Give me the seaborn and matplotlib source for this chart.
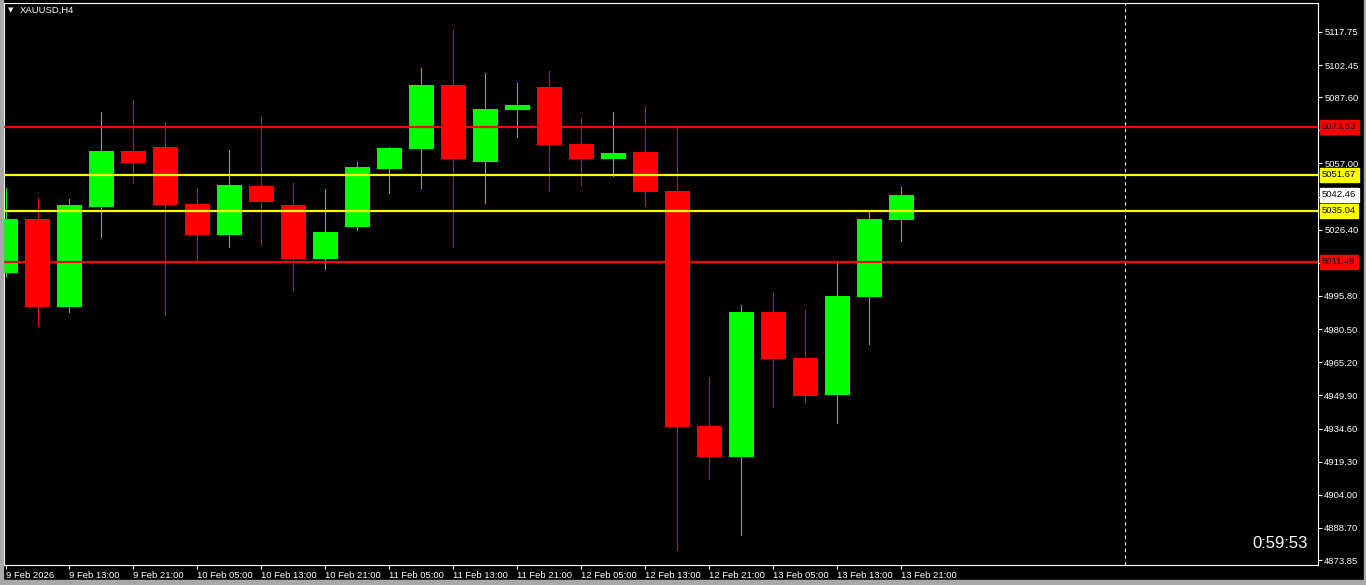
import matplotlib
matplotlib.use("Agg")
import matplotlib.pyplot as plt
import matplotlib.transforms as mtransforms
from matplotlib.patches import Rectangle
import seaborn as sns

sns.set_theme(style="dark", rc={"axes.facecolor": "black", "figure.facecolor": "black"})
plt.rcParams['font.family'] = ['Liberation Sans', 'DejaVu Sans']

# XAUUSD H4 candles
opens  = [5006.4, 5031.4, 4990.7, 5036.9, 5062.8, 5064.6, 5038.3, 5023.8, 5046.6, 5037.8,
          5012.9, 5027.7, 5054.4, 5063.7, 5093.2, 5057.7, 5081.7, 5092.3, 5066.0, 5059.1,
          5062.3, 5044.3, 4935.8, 4921.4, 4988.4, 4967.2, 4950.1, 4995.3, 5030.7]
highs  = [5045.7, 5041.0, 5040.6, 5080.8, 5086.3, 5075.7, 5045.7, 5063.2, 5078.4, 5048.0,
          5045.2, 5057.7, 5064.6, 5101.1, 5118.6, 5098.8, 5094.2, 5099.7, 5078.0, 5080.8,
          5083.5, 5074.8, 4958.4, 4991.6, 4997.3, 4989.3, 5011.0, 5035.5, 5046.1]
lows   = [5005.0, 4981.9, 4988.5, 5023.2, 5048.1, 4987.2, 5011.6, 5018.5, 5019.3, 4998.6,
          5008.3, 5026.3, 5043.3, 5045.7, 5018.4, 5038.7, 5069.2, 5044.3, 5047.1, 5051.2,
          5037.3, 4878.5, 4911.3, 4885.4, 4944.7, 4946.8, 4937.3, 4973.6, 5021.2]
closes = [5031.4, 4990.7, 5037.8, 5062.8, 5057.3, 5037.8, 5023.8, 5047.1, 5039.2, 5012.9,
          5025.3, 5055.4, 5064.1, 5093.2, 5059.1, 5082.1, 5084.0, 5065.5, 5059.1, 5061.8,
          5043.8, 4935.3, 4921.4, 4988.4, 4966.7, 4949.6, 4995.8, 5031.3, 5042.46]

time_labels = ["9 Feb 2026", "9 Feb 13:00", "9 Feb 21:00", "10 Feb 05:00", "10 Feb 13:00",
               "10 Feb 21:00", "11 Feb 05:00", "11 Feb 13:00", "11 Feb 21:00", "12 Feb 05:00",
               "12 Feb 13:00", "12 Feb 21:00", "13 Feb 05:00", "13 Feb 13:00", "13 Feb 21:00"]
time_pos = list(range(0, 29, 2))

price_ticks = [5117.75, 5102.45, 5087.60, 5072.30, 5057.00, 5041.70, 5026.40, 5011.10, 4995.80,
               4980.50, 4965.20, 4949.90, 4934.60, 4919.30, 4904.00, 4888.70, 4873.85]
hidden_ticks = [5041.70, 5011.10]

# horizontal levels: (price, colour)
levels = [(5073.83, "#ff0000"), (5051.67, "#ffff00"), (5035.04, "#ffff00"), (5011.49, "#ff0000")]
bid = 5042.46
timer = "0:59:53"

W, H = 1366, 585
fig = plt.figure(figsize=(W / 100, H / 100), dpi=100, facecolor="black")
ax = fig.add_axes([4 / W, 1 - 565 / H, 1314 / W, 562 / H])
ax.set_facecolor("black")

green, red = "#00ff00", "#ff0000"
idx = list(range(len(opens)))
cols = [green if c >= o else red for o, c in zip(opens, closes)]
bottoms = [min(o, c) for o, c in zip(opens, closes)]
heights = [max(abs(c - o), 0.6) for o, c in zip(opens, closes)]

ax.vlines(idx, lows, highs, colors=cols, linewidth=0.7, antialiased=False, zorder=3)
ax.bar(idx, heights, bottom=bottoms, width=0.78, color=cols, linewidth=0,
       antialiased=False, zorder=4)

for p, c in levels:
    ax.axhline(p, color=c, linewidth=1.6, zorder=5)

ax.axvline(35, color="white", linewidth=0.8, linestyle=(0, (3, 3)), zorder=2)

ax.set_xlim(-0.047, 41.02)
ax.set_ylim(4871.57, 5131.09)

for s in ax.spines.values():
    s.set_color("white")
    s.set_linewidth(0.8)

ax.yaxis.tick_right()
ax.set_yticks(price_ticks)
ax.set_yticklabels(["" if p in hidden_ticks else f"{p:.2f}" for p in price_ticks])
ax.tick_params(axis="y", colors="white", labelcolor="white", labelsize=6.8,
               length=3, width=0.8, pad=1.5, right=True, left=False)
ax.set_xticks(time_pos)
ax.set_xticklabels(time_labels, ha="left")
ax.tick_params(axis="x", colors="white", labelcolor="white", labelsize=6.8,
               length=3, width=0.8, pad=1.5, bottom=True)
ax.grid(False)
ax.set_xlabel("")
ax.set_ylabel("")

# price labels in coloured boxes on the right scale
tr = mtransforms.blended_transform_factory(ax.transAxes, ax.transData)
off = mtransforms.offset_copy(tr, fig=fig, x=4, y=0, units="dots")
for p, c in levels + [(bid, "white")]:
    ax.text(1.0, p, f"{p:.2f}", transform=off, ha="left", va="center", fontsize=6.8,
            color="black", clip_on=False, zorder=20,
            bbox=dict(boxstyle="square,pad=0.25", facecolor=c, edgecolor=c))

ax.text(1304 / 1314, (565 - 544) / 562, timer, transform=ax.transAxes,
        ha="right", va="center", fontsize=12, color="white", zorder=10)

fig.text(20 / W, 1 - 10.5 / H, "XAUUSD,H4", fontsize=6.8, color="white", va="center")
fig.text(8 / W, 1 - 10.5 / H, "\u25bc", fontsize=5, color="white", va="center",
         family=["DejaVu Sans"])

# window border
grey = "#a8a8a8"
fig.patches.append(Rectangle((0, 0), 3 / W, 1, transform=fig.transFigure, color=grey, zorder=0))
fig.patches.append(Rectangle((0, 0), 1, 5 / H, transform=fig.transFigure, color=grey, zorder=0))
fig.patches.append(Rectangle((1 - 2 / W, 0), 2 / W, 1, transform=fig.transFigure, color=grey, zorder=0))

fig.savefig("out.png", dpi=100, facecolor="black")
